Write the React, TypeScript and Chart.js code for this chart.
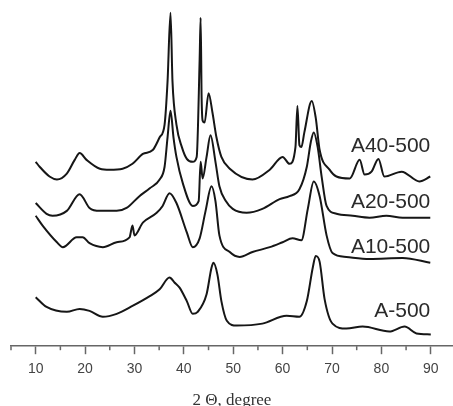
import React, { useEffect, useRef } from "react";
import { Chart, registerables } from "chart.js";

Chart.register(...registerables);

// 2θ positions (degree) and relative intensities (a.u., stacked offsets included)
const a40Theta = [10.0, 10.8, 12.8, 14.3, 16.3, 17.9, 18.9, 20.3, 23.0, 25.0, 27.6, 29.6, 31.7, 33.7, 35.1, 36.1, 36.7, 37.3, 37.7, 38.5, 39.6, 40.6, 41.8, 42.6, 43.2, 43.4, 43.6, 43.8, 44.2, 45.0, 45.8, 46.6, 47.6, 49.3, 53.9, 57.4, 60.0, 61.4, 62.6, 63.0, 63.4, 63.8, 64.4, 65.9, 66.7, 67.5, 69.5, 70.9, 73.6, 75.6, 76.6, 78.0, 79.4, 80.6, 84.1, 87.7, 89.9];
const a40Int = [188, 183, 173, 170, 176, 190, 197, 190, 181, 180, 181, 186, 196, 200, 213, 226, 270, 340, 270, 226, 203, 191, 188, 193, 293, 335, 253, 230, 228, 258, 238, 213, 193, 181, 170, 180, 193, 186, 203, 245, 205, 203, 218, 250, 233, 200, 180, 173, 171, 190, 175, 178, 191, 173, 178, 168, 173];

const a20Theta = [10.0, 12.2, 13.4, 16.3, 18.9, 20.9, 23.0, 26.4, 28.4, 31.0, 33.1, 35.1, 36.1, 36.7, 37.3, 37.9, 38.5, 39.8, 41.8, 43.0, 43.4, 43.8, 44.6, 45.4, 46.4, 47.2, 48.5, 49.9, 52.7, 55.9, 59.4, 61.4, 63.4, 64.9, 65.7, 66.3, 67.1, 67.9, 68.9, 70.9, 74.2, 77.6, 81.0, 84.3, 89.9];
const a20Int = [146, 135, 133, 138, 155, 141, 138, 138, 141, 153, 161, 170, 183, 213, 240, 213, 193, 166, 143, 148, 188, 171, 193, 215, 188, 163, 148, 140, 136, 140, 150, 153, 160, 183, 208, 218, 203, 173, 143, 135, 133, 131, 133, 131, 131];

const a10Theta = [10.0, 11.4, 14.3, 15.5, 18.3, 19.5, 20.9, 23.6, 26.4, 29.0, 29.6, 30.0, 31.7, 34.5, 35.7, 37.1, 38.5, 40.6, 41.8, 43.2, 44.4, 45.6, 46.4, 47.2, 49.3, 51.3, 53.9, 57.4, 60.0, 62.0, 63.8, 65.1, 66.3, 67.5, 68.9, 70.1, 72.9, 77.6, 84.3, 89.9];
const a10Int = [133, 123, 106, 101, 111, 111, 105, 101, 106, 111, 123, 113, 126, 136, 143, 156, 146, 116, 101, 110, 138, 163, 148, 113, 96, 91, 96, 101, 106, 110, 108, 140, 168, 153, 113, 95, 91, 89, 90, 85];

const a0Theta = [10.0, 12.2, 16.3, 18.9, 20.9, 23.6, 26.4, 29.6, 33.1, 35.1, 37.1, 38.1, 39.1, 40.6, 41.8, 42.8, 44.6, 45.6, 46.0, 46.8, 47.6, 48.7, 50.7, 55.9, 60.8, 63.4, 64.9, 66.1, 66.7, 67.5, 68.5, 70.1, 72.9, 76.2, 81.6, 84.7, 87.1, 90.0];
const a0Int = [50, 40, 35, 38, 36, 30, 33, 41, 51, 58, 70, 65, 60, 46, 33, 35, 53, 80, 85, 73, 46, 26, 21, 23, 31, 30, 46, 80, 92, 86, 48, 23, 18, 20, 15, 20, 13, 12];

const seriesNames = ["A40-500", "A20-500", "A10-500", "A-500"];
const labelLevels = [204, 147, 101, 36];
const xTickValues = [10, 20, 30, 40, 50, 60, 70, 80, 90];
const xMinorTickValues = [5, 15, 25, 35, 45, 55, 65, 75, 85];

const toPoints = (xs: number[], ys: number[]) => xs.map((x, i) => ({ x, y: ys[i] }));

export default function App() {
  const ref = useRef<HTMLCanvasElement | null>(null);

  useEffect(() => {
    document.body.style.margin = "0";
    document.body.style.overflow = "hidden";
    const canvas = ref.current;
    if (!canvas) return;

    const lineStyle = {
      borderColor: "#161616",
      borderWidth: 2,
      pointRadius: 0,
      cubicInterpolationMode: "monotone" as const,
      fill: false,
    };

    const extras = {
      id: "extras",
      afterDraw(chart: any) {
        const ctx = chart.ctx;
        const xs = chart.scales.x;
        const ys = chart.scales.y;
        const bottom = chart.chartArea.bottom;
        ctx.save();
        // minor ticks
        ctx.strokeStyle = "#666";
        ctx.lineWidth = 1.5;
        xMinorTickValues.forEach((v) => {
          const px = xs.getPixelForValue(v);
          ctx.beginPath();
          ctx.moveTo(px, bottom);
          ctx.lineTo(px, bottom + 4);
          ctx.stroke();
        });
        // series labels
        ctx.fillStyle = "#2a2a2a";
        ctx.font = "21px 'Liberation Sans', Arial, sans-serif";
        ctx.textAlign = "right";
        ctx.textBaseline = "middle";
        seriesNames.forEach((name, i) => {
          ctx.fillText(name, xs.getPixelForValue(89.9), ys.getPixelForValue(labelLevels[i]));
        });
        ctx.restore();
      },
    };

    const chart = new Chart(canvas, {
      type: "line",
      data: {
        datasets: [
          { label: seriesNames[0], data: toPoints(a40Theta, a40Int), ...lineStyle },
          { label: seriesNames[1], data: toPoints(a20Theta, a20Int), ...lineStyle },
          { label: seriesNames[2], data: toPoints(a10Theta, a10Int), ...lineStyle },
          { label: seriesNames[3], data: toPoints(a0Theta, a0Int), ...lineStyle },
        ],
      },
      options: {
        animation: false,
        responsive: false,
        layout: { padding: { left: 11, right: 0, top: 0, bottom: 0 } },
        plugins: { legend: { display: false }, tooltip: { enabled: false } },
        scales: {
          x: {
            type: "linear",
            min: 5,
            max: 94.5,
            afterBuildTicks: (scale: any) => {
              scale.ticks = xTickValues.map((v) => ({ value: v }));
            },
            border: { display: true, color: "#666", width: 1.5 },
            grid: {
              display: true,
              drawOnChartArea: false,
              drawTicks: true,
              tickLength: 8,
              tickColor: "#666",
              tickWidth: 1.5,
            },
            ticks: {
              color: "#444",
              padding: 7,
              maxRotation: 0,
              autoSkip: false,
              font: { family: "'Liberation Sans', Arial, sans-serif", size: 14, lineHeight: 1.2 },
              callback: (v: any) => String(v),
            },
            title: {
              display: true,
              text: "2 Θ, degree",
              color: "#333",
              padding: { top: 7, bottom: 0 },
              font: { family: "'Liberation Serif', 'Times New Roman', serif", size: 17, lineHeight: 1 },
            },
          },
          y: {
            type: "linear",
            display: false,
            min: 0,
            max: 353,
          },
        },
      },
      plugins: [extras],
    });

    return () => chart.destroy();
  }, []);

  return <canvas ref={ref} width={453} height={409} style={{ display: "block" }} />;
}
